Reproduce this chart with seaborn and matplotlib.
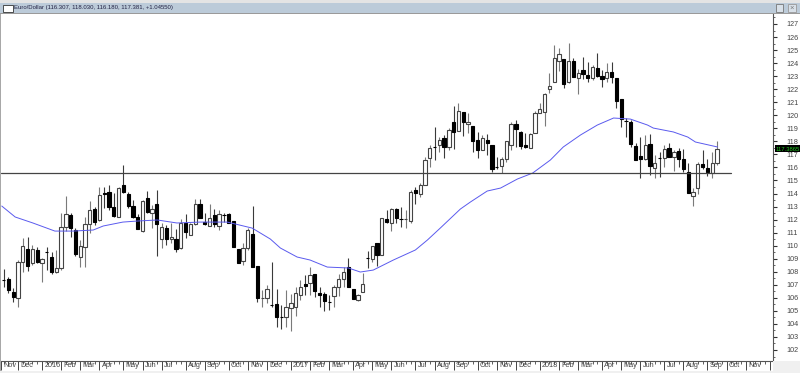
import numpy as np
import pandas as pd
import seaborn as sns
import matplotlib
matplotlib.use("Agg")
import matplotlib.pyplot as plt
from matplotlib.patches import Rectangle
from matplotlib.transforms import ScaledTranslation

opens = [107.37,107.44,106.45,105.99,108.75,109.74,108.67,109.67,108.67,109.52,109.13,107.98,108.29,111.43,112.35,111.20,109.13,109.90,111.66,112.81,
111.97,114.04,114.12,112.97,112.20,114.65,113.96,113.04,112.20,111.12,113.66,112.51,113.20,110.51,111.35,110.51,110.51,109.82,111.74,110.82,
111.66,113.20,111.81,111.51,112.35,111.51,112.35,112.43,111.89,109.74,108.82,109.82,110.89,108.44,105.99,105.99,105.45,105.53,104.53,104.53,
105.22,105.30,106.22,107.06,107.14,107.83,106.37,106.29,105.68,106.14,106.83,107.44,108.36,106.68,105.83,106.45,109.05,108.98,110.20,109.28,
112.05,111.74,112.81,112.05,112.05,111.89,114.27,113.96,114.65,116.72,117.57,117.72,118.26,117.57,119.48,118.79,120.25,119.33,119.18,118.10,
117.34,118.10,117.72,116.03,116.11,116.65,117.72,119.33,118.72,117.72,117.49,118.64,120.17,120.25,122.00,122.55,124.16,124.32,122.55,124.16,
122.86,123.47,123.09,122.86,123.62,123.01,122.86,123.32,122.86,121.25,119.56,119.48,117.64,116.88,116.65,117.80,115.96,116.72,116.72,117.49,
116.80,117.26,116.65,115.65,113.81,114.42,116.26,115.96,115.57,116.307]
highs = [108.21,107.60,106.75,108.90,110.59,110.66,110.05,109.90,109.05,109.90,109.52,109.67,112.51,113.81,112.51,111.35,110.43,112.20,113.43,112.97,
114.50,114.50,114.65,114.04,114.50,116.19,114.12,113.50,112.43,113.50,114.19,113.12,114.27,111.74,111.58,111.74,111.28,112.05,112.43,111.74,
113.58,113.58,112.51,113.20,112.81,112.74,112.51,112.51,111.89,109.74,110.20,111.35,113.04,108.44,106.60,106.98,108.75,106.68,105.45,106.60,
106.29,106.83,107.37,107.75,108.36,107.83,106.83,106.45,106.22,106.98,107.83,108.36,109.05,106.68,106.29,107.90,109.59,109.97,110.20,112.12,
112.74,112.89,112.89,112.97,112.74,114.27,114.50,114.81,116.80,117.72,119.10,118.33,118.49,119.02,120.71,120.94,120.25,120.17,119.18,118.72,
118.49,118.56,117.72,116.80,116.80,118.03,119.48,119.64,118.79,118.64,118.64,120.33,120.94,121.71,123.24,125.39,125.16,124.32,125.54,124.39,
123.55,124.47,124.09,123.86,124.78,123.47,124.01,124.09,122.86,121.25,119.79,119.64,117.87,118.33,118.49,118.56,116.95,117.18,117.72,117.87,
117.34,117.49,117.41,116.34,114.42,116.42,117.34,116.65,117.18,118.03]
lows = [106.83,106.37,105.68,105.30,107.98,108.06,108.52,108.67,107.21,108.13,107.83,107.90,108.13,111.12,110.66,109.21,108.36,108.36,110.97,111.58,
111.89,112.89,112.74,112.20,112.20,114.04,112.89,112.12,111.28,111.05,112.51,111.35,109.21,109.82,110.05,110.20,109.52,109.74,110.59,110.82,
111.58,112.12,111.58,111.51,111.43,111.20,111.81,111.74,109.90,108.67,108.52,109.67,108.36,105.68,105.30,105.60,105.30,103.76,103.61,103.76,
103.46,104.61,105.83,106.22,106.22,106.06,105.30,105.00,105.07,105.30,106.14,106.83,106.83,105.91,105.76,106.45,108.29,108.75,108.44,109.28,
111.74,111.12,111.74,111.43,111.35,111.74,113.20,113.73,114.65,116.03,116.57,117.18,116.72,117.34,117.41,118.79,118.41,118.64,117.18,116.72,
117.34,116.95,115.65,115.88,115.57,116.42,117.34,117.57,117.41,117.49,117.49,118.64,120.17,119.18,121.71,122.55,123.40,122.09,122.47,122.93,
121.63,122.78,122.55,122.71,122.93,122.17,122.55,122.47,120.56,119.10,118.33,117.57,116.57,115.19,116.57,115.42,115.19,115.27,116.03,116.80,
115.73,116.03,115.65,114.04,113.04,113.96,115.88,115.34,115.19,116.18]
closes = [107.35,106.60,106.06,108.75,109.97,108.44,109.74,108.75,108.98,109.50,107.98,108.29,111.43,112.43,111.35,109.36,109.97,111.66,112.74,111.81,
113.89,113.96,112.97,112.28,114.42,114.12,113.04,112.20,111.28,113.43,112.58,112.81,111.66,111.43,110.51,110.66,109.74,111.74,111.05,111.66,
113.20,112.12,111.66,112.12,111.66,112.43,112.33,111.74,109.90,108.67,109.82,111.20,108.36,105.99,106.01,106.68,105.43,104.53,104.51,105.30,
105.60,106.37,106.83,106.91,107.75,106.52,106.22,105.76,105.66,106.83,107.44,107.98,106.83,105.91,106.22,107.06,109.03,109.97,109.28,112.12,
111.81,112.81,112.12,112.03,112.07,114.12,114.04,114.65,116.57,117.49,117.55,118.10,117.57,118.87,118.72,120.33,119.48,119.48,118.03,117.34,
118.26,117.87,115.88,116.01,116.65,118.03,119.33,118.95,117.64,117.57,118.56,120.17,120.48,121.63,122.25,124.39,124.70,122.40,124.16,122.93,
123.24,123.17,122.86,123.70,123.01,122.78,123.32,122.93,121.09,119.71,119.54,117.80,116.57,116.65,117.72,116.11,116.34,116.70,117.41,116.80,
117.18,116.65,115.88,114.04,114.12,116.26,116.03,115.65,116.34,117.381]

ma_idx = [-0.4,2.4,6.1,10.7,14.5,18.7,20.8,24.9,27.9,32.1,36.2,41,46.7,51.9,55.7,57.8,61.3,64,67.6,72,74.5,77.2,81.4,86,88.5,91.2,95.4,97.5,
101,103.8,107.3,110.5,114.2,116.9,120.5,124,127.4,130.9,134.5,135.7,139.9,142.9,144.5,149.1]
ma_val = [113.04,112.2,111.74,111.12,111.12,111.2,111.51,111.81,111.89,111.97,111.74,111.81,111.81,111.35,110.51,109.82,109.13,108.9,108.36,108.29,107.98,108.13,108.9,109.67,110.43,111.35,112.81,113.35,
114.19,114.42,115.11,115.57,116.57,117.57,118.49,119.25,119.79,119.71,119.25,119.02,118.72,118.33,117.95,117.57]

level_value = 115.55
level_end = 152
last_price = "117.3865"
title = "Euro/Dollar (116.307, 118.030, 116.180, 117.381, +1.04550)"

month_idx = [-0.5,3,8,12,16,20,25,29,33,38,42,47,51,55,60,64,68,73,77,81,86,90,94,99,103,107,112,116,120,125,129,133,138,142,147,151,155,160]
month_lab = ["Nov","Dec","2016","Feb","Mar","Apr","May","Jun","Jul","Aug","Sep","Oct","Nov","Dec","2017","Feb","Mar","Apr","May","Jun","Jul","Aug","Sep",
             "Oct","Nov","Dec","2018","Feb","Mar","Apr","May","Jun","Jul","Aug","Sep","Oct","Nov",""]
y_major = list(range(102, 128))

W, H = 800, 373
sns.set_theme(style="white")
plt.rcParams["font.family"] = ["Liberation Sans", "DejaVu Sans"]
fig = plt.figure(figsize=(W / 100, H / 100), dpi=100, facecolor="white")
ax = fig.add_axes([1 / W, 1 - 360.5 / H, 771.5 / W, 346.5 / H])
ax.set_facecolor("white")

df = pd.DataFrame({"o": opens, "h": highs, "l": lows, "c": closes})
df["i"] = np.arange(len(df))
up = df["c"] >= df["o"]

# wicks
ax.vlines(df["i"][up], df["l"][up], df["h"][up], color="#7a7a7a", lw=0.8, zorder=2)
ax.vlines(df["i"][~up], df["l"][~up], df["h"][~up], color="#3a3a3a", lw=0.8, zorder=2)
# bodies
ax.bar(df["i"][up], (df["c"] - df["o"])[up], bottom=df["o"][up], width=0.68,
       facecolor="white", edgecolor="#444444", linewidth=0.8, zorder=3)
ax.bar(df["i"][~up], (df["o"] - df["c"])[~up], bottom=df["c"][~up], width=0.68,
       facecolor="black", edgecolor="black", linewidth=0.8, zorder=3)

sns.lineplot(x=ma_idx, y=ma_val, color="#5a5aee", lw=0.7, ax=ax, zorder=4, errorbar=None, sort=False)
ax.plot([-0.56, level_end], [level_value, level_value], color="#444444", lw=0.9, zorder=4)

ax.set_xlim(-0.56, 160.6)
ax.set_ylim(127 - (360.5 - 24) / 13.04, 127 + 10 / 13.04)

for s in ["top", "left"]:
    ax.spines[s].set_visible(False)
for s in ["right", "bottom"]:
    ax.spines[s].set_color("#555555")
    ax.spines[s].set_linewidth(0.8)

ax.yaxis.tick_right()
ax.set_yticks(y_major)
ax.set_yticklabels([str(v) for v in y_major])
ax.set_yticks([v + 0.5 for v in y_major[:-1]] + [101.5, 127.5], minor=True)
ax.tick_params(axis="y", which="major", length=3.2, width=0.8, color="#333333", pad=7,
               labelsize=5.2, labelcolor="#444444", right=True)
ax.tick_params(axis="y", which="minor", length=1.4, width=0.7, color="#666666", right=True)

ax.set_xticks(month_idx)
ax.set_xticklabels(month_lab)
ax.set_xticks(np.arange(0, 161), minor=True)
ax.tick_params(axis="x", which="major", length=6.2, width=0.7, color="#444444", pad=-5.0,
               labelsize=5.2, labelcolor="#444444", bottom=True)
ax.tick_params(axis="x", which="minor", length=2, width=0.6, color="#444444", bottom=True)
offset = ScaledTranslation(1.6 / 72, 0, fig.dpi_scale_trans)
for lab in ax.get_xticklabels():
    lab.set_ha("left")
    lab.set_transform(lab.get_transform() + offset)
    lab.set_clip_on(False)


def box(x0, y0, x1, y1, **kw):
    fig.add_artist(Rectangle((x0 / W, 1 - y1 / H), (x1 - x0) / W, (y1 - y0) / H,
                             transform=fig.transFigure, **kw))


# window chrome
box(0, 0, 800, 3, facecolor="#e4e4e4", edgecolor="none")
box(0, 3, 800, 14, facecolor="#bccbd9", edgecolor="none")
box(0, 13.2, 800, 14.2, facecolor="#9a9a9a", edgecolor="none")
box(0, 14, 1, 373, facecolor="#a8a8a8", edgecolor="none")
box(773, 360.5, 800, 373, facecolor="#f0f0f0", edgecolor="none")
box(0, 371, 773, 373, facecolor="#f0f0f0", edgecolor="none")
box(3, 5.5, 13, 11.5, facecolor="white", edgecolor="#333333", linewidth=0.6)
box(776, 4.5, 783, 11.5, facecolor="#d8e0e8", edgecolor="#777777", linewidth=0.6)
box(788, 4.5, 796, 11.5, facecolor="#d8e0e8", edgecolor="#999999", linewidth=0.6)
fig.text(792 / W, 1 - 8 / H, "×", fontsize=5.5, color="#777777", ha="center", va="center")
fig.text(14 / W, 1 - 7.5 / H, title, fontsize=4.3, color="#222244", ha="left", va="center")

# current price flag
box(775, 145, 800, 152.5, facecolor="black", edgecolor="none")
fig.text(775.5 / W, 1 - 149 / H, last_price, fontsize=4.2, color="#22cc22", ha="left", va="center")

fig.savefig("out.png", dpi=100, facecolor="white")
